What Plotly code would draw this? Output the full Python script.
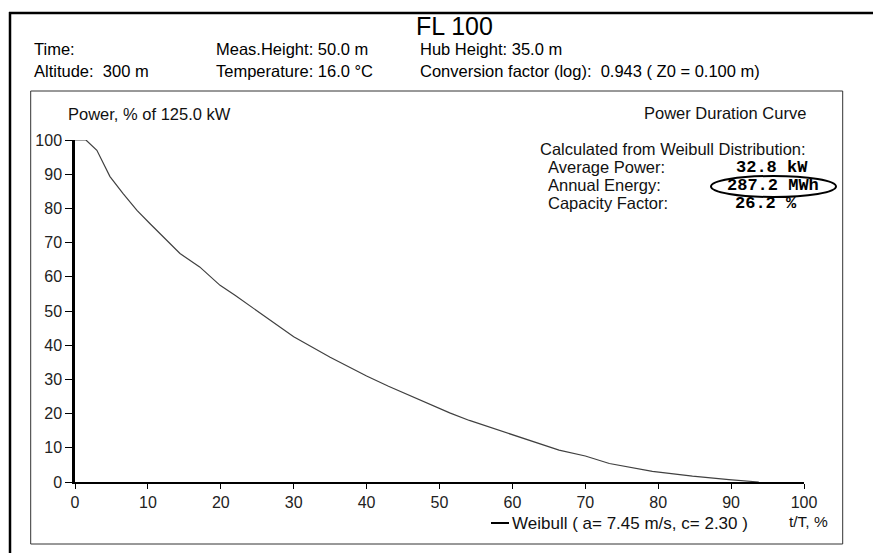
import plotly.graph_objects as go

# ---- data ----
t_pct = [0, 1.5, 3, 4.8, 6.6, 8.5, 10.3, 13, 14.4, 17.1, 19.9, 22, 26, 30, 35, 40, 43,
         47.3, 51.4, 54.1, 59.6, 66.4, 70, 73.3, 79.2, 84.7, 89.7, 93.8]
power_pct = [100, 100, 97, 89.3, 84.3, 79.4, 75.5, 69.7, 66.8, 62.9, 57.5, 54.5, 48.5, 42.5,
             36.5, 31, 28, 23.9, 20.2, 18.0, 14.1, 9.3, 7.6, 5.4, 3.1, 1.7, 0.7, 0]
x_ticks = [0, 10, 20, 30, 40, 50, 60, 70, 80, 90, 100]
y_ticks = [0, 10, 20, 30, 40, 50, 60, 70, 80, 90, 100]

series_name = "Weibull ( a= 7.45 m/s, c= 2.30 )"
title_text = "FL 100"
header_rows = [
    ["Time:", "Meas.Height: 50.0 m", "Hub Height: 35.0 m"],
    ["Altitude:\u00a0\u00a0300 m", "Temperature: 16.0 °C",
     "Conversion factor (log):\u00a0\u00a00.943 ( Z0 = 0.100 m)"],
]
stat_labels = ["Average Power:", "Annual Energy:", "Capacity Factor:"]
stat_values = ["32.8 kW", "287.2 MWh", "26.2 %"]

# ---- layout geometry (pixels) ----
W, H = 873, 553
L, R, T, B = 75, 804, 140, 482
PW, PH = R - L, B - T


def px(x):
    return (x - L) / PW


def py(y):
    return (B - y) / PH


FONT = "Arial, Liberation Sans, sans-serif"
MONO = "Courier New, Liberation Mono, monospace"

fig = go.Figure()
fig.add_trace(go.Scatter(x=t_pct, y=power_pct, mode="lines", name=series_name,
                         line=dict(color="#404040", width=1.2), showlegend=False,
                         hoverinfo="x+y"))

annotations = []


def text(s, x, y, anchor="left", size=16.5, family=FONT, color="#000000", bold=False):
    if bold:
        s = "<b>" + s + "</b>"
    annotations.append(dict(text=s, x=px(x), y=py(y), xref="paper", yref="paper",
                            xanchor=anchor, yanchor="middle", showarrow=False,
                            font=dict(family=family, size=size, color=color)))


text(title_text, 414, 26.5, size=25)
col_x = [32, 214, 418]
row_y = [49, 71]
for r, row in enumerate(header_rows):
    for c, s in enumerate(row):
        text(s, col_x[c], row_y[r])

text("Power, % of 125.0 kW", 66, 114, color="#111111")
text("Power Duration Curve", 808, 113, anchor="right", color="#111111")
text("Calculated from Weibull Distribution:", 808, 149, anchor="right", color="#111111")
stat_y = [167, 185, 203]
stat_cx = [772, 773, 766]
for lab, val, yy, cx in zip(stat_labels, stat_values, stat_y, stat_cx):
    text(lab, 546, yy, color="#111111")
    text(val, cx, yy, anchor="center", size=17, family=MONO, bold=True)

text(series_name, 510, 523, size=17, color="#111111")
text("t/T, %", 808, 521, anchor="center", size=15.5, color="#111111")

shapes = [
    # outer frame (top + left)
    dict(type="line", xref="paper", yref="paper", x0=px(9), x1=px(873), y0=py(13), y1=py(13),
         line=dict(color="#000000", width=2.5)),
    dict(type="line", xref="paper", yref="paper", x0=px(10), x1=px(10), y0=py(12), y1=py(553),
         line=dict(color="#000000", width=2.5)),
    # inner chart box
    dict(type="rect", xref="paper", yref="paper", x0=px(30.7), x1=px(842.7), y0=py(91), y1=py(544),
         line=dict(color="#333333", width=1)),
    # ellipse around annual energy
    dict(type="circle", xref="paper", yref="paper", x0=px(711), x1=px(836), y0=py(176), y1=py(197),
         line=dict(color="#000000", width=2)),
    # legend line sample
    dict(type="line", xref="paper", yref="paper", x0=px(491), x1=px(509), y0=py(523), y1=py(523),
         line=dict(color="#000000", width=2)),
]

fig.update_layout(
    width=W, height=H,
    margin=dict(l=L, r=W - R, t=T, b=H - B, pad=0),
    paper_bgcolor="#ffffff", plot_bgcolor="#ffffff",
    font=dict(family=FONT, size=16, color="#222222"),
    annotations=annotations, shapes=shapes, showlegend=False,
)
fig.update_xaxes(range=[0, 100], tickvals=x_ticks, showgrid=False, zeroline=False,
                 showline=True, linecolor="#000000", linewidth=2,
                 ticks="outside", ticklen=5, tickwidth=1, tickcolor="#000000",
                 tickfont=dict(family=FONT, size=16, color="#222222"))
fig.update_yaxes(range=[0, 100], tickvals=y_ticks, showgrid=False, zeroline=False,
                 showline=True, linecolor="#000000", linewidth=2.5,
                 ticks="outside", ticklen=7, tickwidth=1, tickcolor="#000000",
                 tickfont=dict(family=FONT, size=16, color="#222222"))

fig.write_html("out.html", config={"displayModeBar": False},
               post_script="document.body.style.margin='0px';")
